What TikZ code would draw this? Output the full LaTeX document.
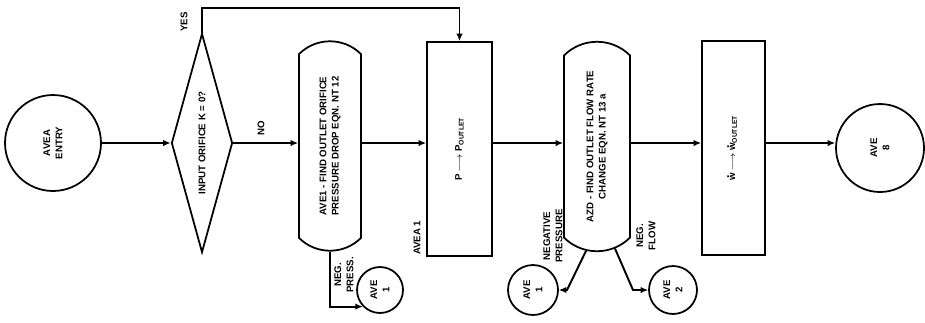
\documentclass[tikz,border=0pt]{standalone}
\usepackage{fontspec}
\setsansfont{Liberation Sans}
\usetikzlibrary{arrows.meta,shapes.geometric,shapes.misc}
\newcommand{\wdot}{\ooalign{w\cr\hidewidth\raisebox{1.2ex}{\fontsize{7}{7}\selectfont .}\hidewidth\cr}}

\begin{document}
\begin{tikzpicture}[
  x=0.02cm, y=-0.02cm,
  >={Latex[length=1.5mm,width=1.3mm]},
  font=\sffamily\bfseries\fontsize{5.5}{7}\selectfont,
  flownode/.style={draw, line width=1pt, rotate=90, align=center, inner sep=1pt},
  procbox/.style={flownode, rectangle},
  calcbox/.style={flownode, rounded rectangle, rounded rectangle arc length=90},
  testnode/.style={flownode, diamond, aspect=3.5, inner sep=0pt},
  connnode/.style={flownode, circle},
  arr/.style={->, line width=1.1pt},
  mainarr/.style={->, line width=1.6pt},
  linelabel/.style={rotate=90, align=center, inner sep=1pt},
]
\useasboundingbox (0,0) rectangle (925,322);
\coordinate (MAIN) at (0,143);

% main row
\node[connnode, minimum size=1.92cm] (ENTRY) at (53,143) {AVEA\\ENTRY};
\node[testnode, minimum width=4.38cm, minimum height=1.22cm] (ORIF) at (202,143) {INPUT ORIFICE K = 0?};
\node[calcbox, minimum width=4.26cm, minimum height=1.24cm] (AVEONE) at (330,146)
  {AVE1 - FIND OUTLET ORIFICE\\PRESSURE DROP EQN. NT 12};
\node[procbox, minimum width=4.28cm, minimum height=1.30cm] (PSET) at (459.5,149)
  {P\,$\longrightarrow$\,P\textsubscript{OUTLET}};
\node[calcbox, minimum width=4.26cm, minimum height=1.32cm] (AZD) at (597,146.5)
  {AZD - FIND OUTLET FLOW RATE\\CHANGE EQN. NT 13 a};
\node[procbox, minimum width=4.28cm, minimum height=1.26cm] (WSET) at (733.5,148)
  {\wdot\,$\longrightarrow$\,\wdot\textsubscript{OUTLET}};
\node[connnode, minimum size=1.76cm] (EXIT) at (880,148) {AVE\\8};

% off-page connectors
\node[connnode, minimum size=0.92cm] (AVEA) at (380,290) {AVE\\1};
\node[connnode, minimum size=1.0cm]  (AVEB) at (533,290) {AVE\\1};
\node[connnode, minimum size=0.96cm] (AVEC) at (673,290) {AVE\\2};

\foreach \src/\dst in {ENTRY/ORIF, ORIF/AVEONE, AVEONE/PSET, PSET/AZD, AZD/WSET, WSET/EXIT}
  \draw[mainarr] (\src.south |- MAIN) -- (\dst.north |- MAIN);

% yes branch
\coordinate (YESTURN) at (202,8);
\draw[arr] (ORIF.east) -- (YESTURN) -| (PSET.east);

% error exits
\coordinate (NPBEND) at (567,290);
\coordinate (NFBEND) at (633,290);
\draw[arr] (AVEONE.west) |- (AVEA.134);
\draw[arr] (AZD.174) -- (NPBEND) -- (AVEB.south);
\draw[arr] (AZD.190) -- (NFBEND) -- (AVEC.north);

\node[linelabel] (YESLBL) at (184,22) {YES};
\node[linelabel] (NOLBL) at (261,128) {NO};
\node[linelabel] (NPLBL) at (344,275) {NEG.\\PRESS.};
\node[linelabel, anchor=west] (AVEALBL) at (417,257) {AVEA 1};
\node[linelabel] (NPRLBL) at (553,236) {NEGATIVE\\PRESSURE};
\node[linelabel] (NFLLBL) at (646,236) {NEG.\\FLOW};

\end{tikzpicture}
\end{document}
